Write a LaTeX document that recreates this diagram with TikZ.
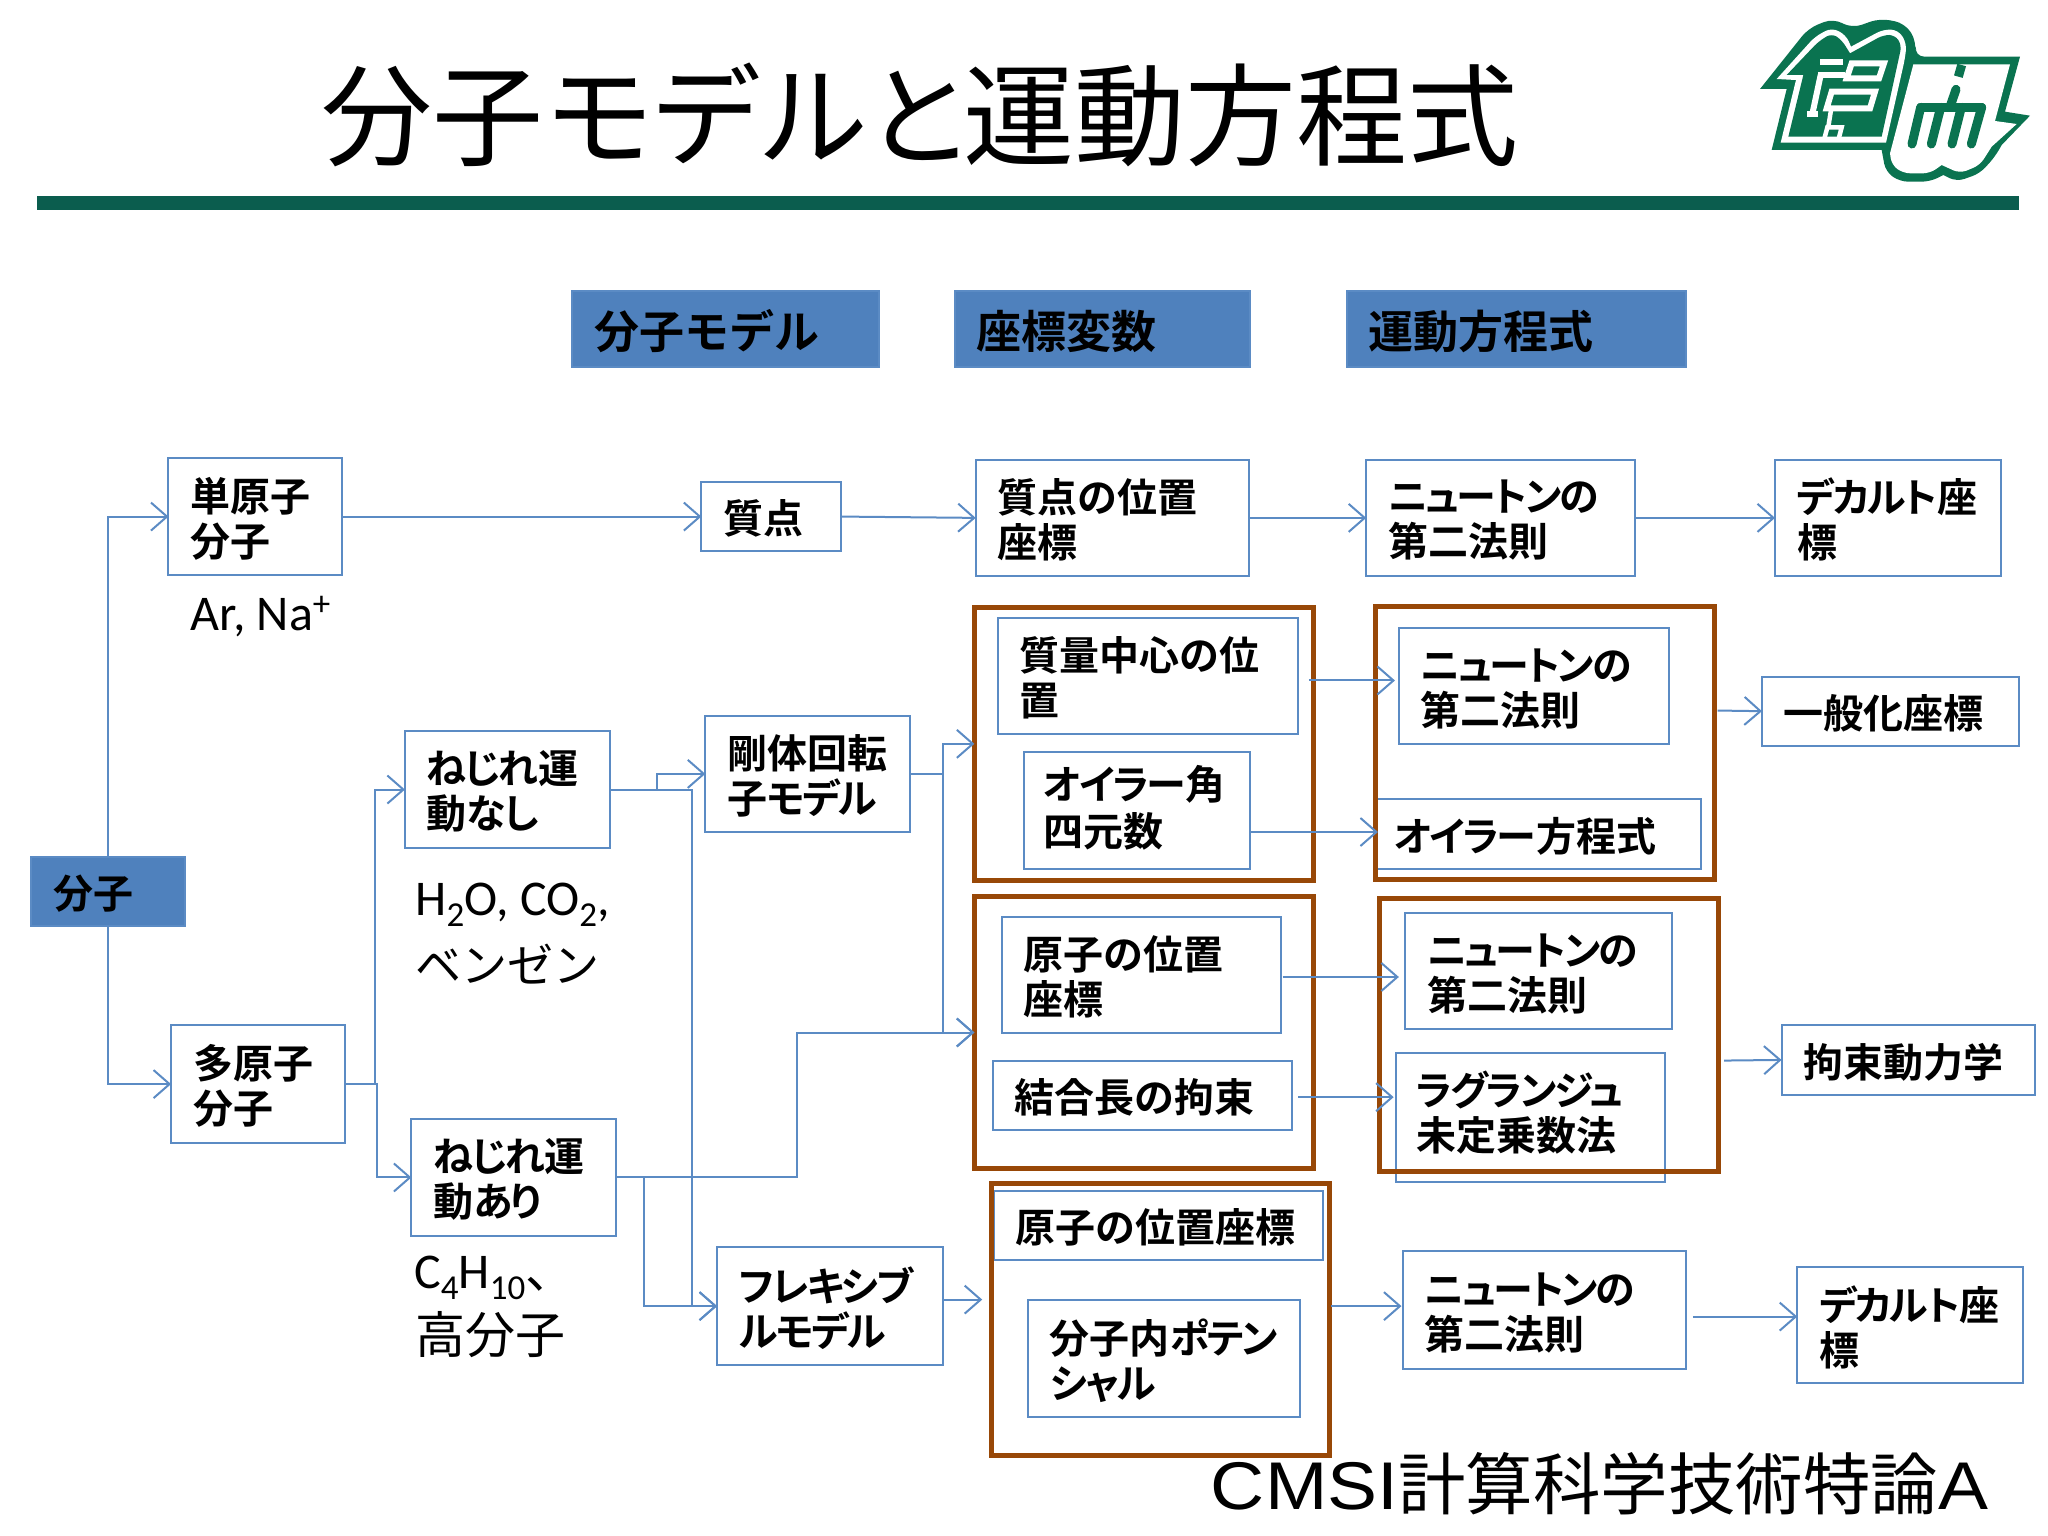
\documentclass[tikz,border=0pt]{standalone}
\usepackage{fontspec}
\usetikzlibrary{arrows.meta,calc}
\setmainfont{Noto Sans CJK JP}[BoldFont={Noto Sans CJK JP Bold}]
\newfontfamily\cjkreg{Noto Sans CJK JP}
\newfontfamily\cjkp{Noto Sans CJK JP}[BoldFont={Noto Sans CJK JP Bold},RawFeature=+palt]
\newfontfamily\latn{Carlito}
\newfontfamily\latnwide{Liberation Sans}[FakeStretch=1.11]
\definecolor{bluefill}{HTML}{4F81BD}
\definecolor{blueline}{HTML}{5B8BC4}
\definecolor{brownfr}{HTML}{984807}
\definecolor{rulegreen}{HTML}{0B5D4E}
\definecolor{logogreen}{HTML}{0A7350}
\newcommand{\U}{1.30612}
\newcommand{\kn}[1]{{\addfontfeature{LetterSpace=-5.5}#1}}
\tikzset{
  boxbase/.style={draw=blueline,line width=2pt,rectangle,outer sep=0pt,inner ysep=0pt,inner xsep=22pt,align=left,font=\fontsize{40}{45}\selectfont\cjkp\bfseries},
  plainbox/.style={boxbase},
  headbox/.style={boxbase,fill=bluefill,font=\fontsize{45}{48}\selectfont\bfseries},
  molbox/.style={boxbase,fill=bluefill},
  frameb/.style={draw=brownfr,line width=5pt,rectangle,outer sep=0pt,inner sep=0pt},
  conn/.style={draw=blueline,line width=2pt,-{Straight Barb[length=16pt,width=28pt,line width=2pt]}},
  chem/.style={anchor=west,inner sep=0pt,align=left,font=\fontsize{50}{52}\selectfont\latn},
  glw/.style={draw=white,line width=6pt},
  glg/.style={draw=logogreen,line width=9pt,line cap=round},
}
\newcommand{\bxx}[7][plainbox]{%
  \pgfmathsetmacro{\ww}{(#4-#2)*\U}%
  \pgfmathsetmacro{\hh}{(#5-#3)*\U}%
  \pgfmathsetmacro{\tw}{\ww-44}%
  \node[#1,text width=\tw pt,minimum width=\ww pt,minimum height=\hh pt] (#6) at ({(#2+#4)/2},{(#3+#5)/2}) {\parbox{\tw pt}{\vspace*{4pt}#7}};}
\newcommand{\frm}[5]{%
  \pgfmathsetmacro{\ww}{(#3-#1)*\U}%
  \pgfmathsetmacro{\hh}{(#4-#2)*\U}%
  \node[frameb,minimum width=\ww pt,minimum height=\hh pt] (#5) at ({(#1+#3)/2},{(#2+#4)/2}) {};}
\newcommand{\sbs}[1]{\raisebox{-0.22em}{\fontsize{35}{35}\selectfont #1}}
\begin{document}
\begin{tikzpicture}[x=1.30612pt,y=-1.30612pt]
\useasboundingbox (0,0) rectangle (1568,1176);
\fill[white] (0,0) rectangle (1568,1176);
% title
\node[anchor=center,inner sep=0pt,font=\fontsize{111}{113}\selectfont\cjkreg] (title) at (704.5,88) {分子モ\hspace{-4pt}デ\hspace{-4pt}ル\hspace{-4pt}と\hspace{-12pt}運動方程式};
\node[fill=rulegreen,minimum width=1982pt,minimum height=14pt,inner sep=0pt,outer sep=0pt] (rule) at (787,155.5) {};
% logo
\begin{scope}[xshift=1720pt,x=0.33333pt,y=-0.33333pt]
\fill[logogreen] (120,267) [rounded corners=10pt] -- (265,85) -- (340,55) -- (395,85) -- (480,55) -- (555,70) -- (590,125) -- (583,170) [sharp corners] -- (900,170) -- (855,335) -- (930,347) -- (845,435) [rounded corners=8pt] -- (825,470) -- (780,520) -- (710,545) [sharp corners] -- (670,525) [rounded corners=8pt] -- (630,545) -- (540,545) -- (497,515) [sharp corners] -- (485,450) -- (155,450) -- (200,267) -- cycle;
\fill[white] (170,237) [rounded corners=7pt] -- (285,110) -- (335,83) -- (378,105) [sharp corners] -- (393,140) [rounded corners=7pt] -- (490,88) -- (535,90) -- (560,130) -- (555,175) [sharp corners] -- (498,428) -- (182,428) -- (228,240) -- cycle;
\fill[logogreen] (200,225) [rounded corners=6pt] -- (295,125) -- (335,100) -- (365,120) [sharp corners] -- (390,160) [rounded corners=6pt] -- (490,105) -- (525,105) -- (545,135) [sharp corners] -- (485,410) -- (205,410) -- (250,225) -- cycle;
\fill[white] (580,193) -- (870,193) -- (825,363) -- (890,372) -- (815,440) [rounded corners=7pt] -- (780,495) -- (720,520) [sharp corners] -- (665,495) [rounded corners=7pt] -- (630,520) -- (550,520) -- (515,495) [sharp corners] -- (510,460) -- cycle;
\begin{scope}[shift={(90,30)}]
\draw[glw] (210,155) -- (280,155);
\draw[glw] (205,195) -- (285,195);
\draw[glw] (212,195) -- (187,312);
\draw[glw] (172,312) -- (205,312);
\draw[glw] (305,160) -- (402,160) -- (387,205) -- (290,205) -- cycle;
\draw[glw] (245,245) -- (375,245) -- (360,295) -- (230,295) -- cycle;
\draw[glw,line width=4.5pt] (222,390) -- (232,352) -- (275,352) -- (265,390);
\draw[glw,line width=4.5pt] (243,300) -- (235,350);
\end{scope}
\begin{scope}[shift={(480,150)}]
\draw[logogreen,line width=9pt] (245,45) -- (235,80);
\draw[glg] (228,118) -- (212,165);
\draw[glg] (122,172) -- (305,172);
\draw[glg] (122,172) -- (96,282);
\draw[glg] (182,172) -- (154,282);
\draw[glg] (244,172) -- (216,282);
\draw[glg] (305,172) -- (274,282);
\end{scope}
\end{scope}
% headers
\bxx[headbox]{438}{223}{673}{281}{hA}{分子モデル}
\bxx[headbox]{731}{223}{957}{281}{hB}{座標変数}
\bxx[headbox]{1031}{223}{1291}{281}{hC}{運動方程式}
\bxx[molbox]{24}{656}{142}{709}{mol}{分子}
% boxes
\bxx{129}{351}{262}{440}{mono}{単原子\\分子}
\bxx{537}{369}{644}{422}{pt}{質点}
\bxx{747}{352}{956}{441}{ptpos}{質点の位置\\座標}
\bxx{1046}{352}{1252}{441}{nwA}{\kn{ニュートンの}\\第二法則}
\bxx{1359}{352}{1532}{441}{carA}{\kn{デカルト}座\\標}
\bxx{764}{473}{994}{562}{com}{質量中心の位\\置}
\bxx{784}{576}{957}{665}{euler}{\vspace*{-10pt}\hspace*{-2.5pt}\kn{オイラー}角\\[2pt]\hspace*{-2.5pt}四元数}
\bxx{1071}{481}{1278}{570}{nwB}{\vspace*{2pt}\kn{ニュートンの}\\第二法則}
\bxx{1054}{612}{1302}{665}{eulereq}{\hspace*{-5pt}\kn{オイラー}方程式}
\bxx{1349}{518}{1546}{571}{gen}{一般化座標}
\bxx{310}{560}{467}{649}{notw}{\kn{ねじれ}運\\動\kn{なし}}
\bxx{540}{548}{697}{637}{rigid}{剛体回転\\子\kn{モデル}}
\bxx{767}{702}{981}{791}{atom}{原子の位置\\座標}
\bxx{760}{812}{989}{865}{bond}{結合長の拘束}
\bxx{1076}{699}{1280}{788}{nwC}{\vspace*{1pt}\kn{ニュートンの}\\第二法則}
\bxx{1069}{806}{1275}{905}{lag}{\vspace*{-14pt}\hspace*{-2pt}\kn{ラグランジュ}\\\hspace*{-2pt}未定乗数法}
\bxx{1364}{785}{1558}{838}{cons}{拘束動力学}
\bxx{131}{785}{264}{875}{poly}{多原子\\分子}
\bxx{315}{857}{472}{946}{tw}{\kn{ねじれ}運\\動\kn{あり}}
\bxx{761}{912}{1013}{965}{atomB}{原子の位置座標}
\bxx{549}{955}{722}{1045}{flex}{\kn{フレキシブ}\\\kn{ルモデル}}
\bxx{787}{995}{995}{1085}{intra}{分子内\kn{ポテン}\\\kn{シャル}}
\bxx{1074}{958}{1291}{1048}{nwD}{\vspace*{1pt}\kn{ニュートンの}\\第二法則}
\bxx{1376}{970}{1549}{1059}{carB}{\kn{デカルト}座\\標}
% frames
\frm{746}{465}{1006}{674}{frA}
\frm{1053}{464}{1313}{673}{frB}
\frm{746}{686}{1006}{895}{frC}
\frm{1056}{688}{1316}{897}{frD}
\frm{759}{906}{1018}{1114}{frE}
% free texts
\node[chem] (ar) at (146,472) {Ar, Na\raisebox{0.3em}{\fontsize{35}{35}\selectfont +}};
\node[chem] (h2o) at (318,693) {H\sbs{2}O, CO\sbs{2},};
\node[anchor=west,inner sep=0pt,font=\fontsize{46}{50}\selectfont\cjkreg] (benz) at (318,738) {ベンゼン};
\node[chem] (c4) at (317,978) {C\sbs{4}H\sbs{10}{\cjkreg 、}};
\node[anchor=west,inner sep=0pt,font=\fontsize{50}{52}\selectfont\cjkreg] (high) at (318,1022) {高分子};
\node[anchor=west,inner sep=0pt,font=\fontsize{67.5}{70}\selectfont\cjkreg] (cmsi) at (927,1136) {{\latnwide CMSI}計算科学技術特論{\latnwide A}};
% connectors
\draw[conn] (mol.north) |- (mono.west);
\draw[conn] (mol.south) |- (poly.west);
\draw[conn] (mono.east) -- (pt.west);
\draw[conn] (pt.east) -- (ptpos.west);
\draw[conn] (ptpos.east) -- (nwA.west);
\draw[conn] (nwA.east) -- (carA.west);
\draw[conn] (poly.east) -- ++(23,0) |- (notw.west);
\draw[conn] (poly.east) -- ++(25,0) |- (tw.west);
\draw[conn] (notw.east) -- ++(36,0) |- (rigid.west);
\draw[conn] (notw.east) -- ++(63,0) |- (flex.west);
\draw[conn] (tw.east) -- ++(21,0) |- (flex.west);
\draw[conn] (tw.east) -- ++(138,0) |- (frC.west);
\draw[conn] (rigid.east) -- ++(25,0) |- (frA.west);
\draw[conn] (rigid.east) -- ++(25,0) |- (frC.west);
\coordinate (fa) at (722,995); \coordinate (fb) at (752,995);
\draw[conn] (fa) -- (fb);
\coordinate (ca) at (1002,521); \coordinate (cb) at (1068,521);
\draw[conn] (ca) -- (cb);
\coordinate (ea) at (957,637); \coordinate (eb) at (1055,637);
\draw[conn] (ea) -- (eb);
\coordinate (ga) at (1315,544);
\draw[conn] (ga) -- (gen.west);
\coordinate (aa) at (982,748); \coordinate (ab) at (1071,748);
\draw[conn] (aa) -- (ab);
\coordinate (ba) at (994,840); \coordinate (bb) at (1067,840);
\draw[conn] (ba) -- (bb);
\coordinate (da) at (1320,812);
\draw[conn] (da) -- (cons.west);
\coordinate (fe) at (1019,1000); \coordinate (ne) at (1073,1000);
\draw[conn] (fe) -- (ne);
\coordinate (na) at (1296,1008); \coordinate (nb) at (1376,1008);
\draw[conn] (na) -- (nb);
\end{tikzpicture}
\end{document}
